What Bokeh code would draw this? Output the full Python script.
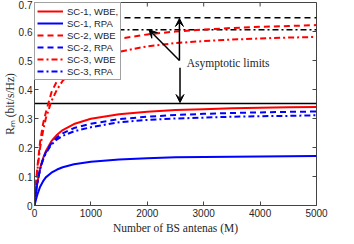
import math
from bokeh.plotting import figure
from bokeh.models import (Range1d, FixedTicker, Legend, LegendItem,
                          Arrow, VeeHead, Label)
from bokeh.embed import file_html
from bokeh.resources import INLINE

# ---------------- data ----------------
M = [0, 25, 50, 100, 150, 200, 300, 400, 500, 700, 1000, 1500, 2000, 2500,
     3000, 3500, 4000, 4500, 5000]
sc1_wbe = [0, 0.044, 0.078, 0.128, 0.162, 0.187, 0.222, 0.244, 0.260, 0.281,
           0.299, 0.315, 0.323, 0.329, 0.332, 0.335, 0.337, 0.339, 0.340]
sc1_rpa = [0, 0.020, 0.037, 0.065, 0.083, 0.097, 0.113, 0.124, 0.132, 0.142,
           0.151, 0.159, 0.163, 0.166, 0.167, 0.168, 0.169, 0.170, 0.171]
sc2_wbe = [0, 0.075, 0.130, 0.220, 0.280, 0.320, 0.390, 0.430, 0.460, 0.500,
           0.540, 0.575, 0.590, 0.600, 0.607, 0.612, 0.616, 0.619, 0.622]
sc2_rpa = [0, 0.044, 0.078, 0.127, 0.160, 0.183, 0.215, 0.235, 0.249, 0.267,
           0.282, 0.298, 0.306, 0.312, 0.316, 0.319, 0.321, 0.323, 0.324]
sc3_wbe = [0, 0.070, 0.120, 0.200, 0.255, 0.300, 0.360, 0.400, 0.430, 0.470,
           0.500, 0.530, 0.549, 0.560, 0.567, 0.572, 0.576, 0.579, 0.581]
sc3_rpa = [0, 0.044, 0.077, 0.125, 0.157, 0.180, 0.210, 0.228, 0.240, 0.256,
           0.270, 0.287, 0.295, 0.300, 0.303, 0.306, 0.308, 0.309, 0.311]
asym_x = [0, 5000]
asym_sc1 = 0.352
asym_sc2 = 0.647
asym_sc3 = 0.606

labels = ["SC-1, WBE,", "SC-1, RPA", "SC-2, WBE", "SC-2, RPA", "SC-3, WBE", "SC-3, RPA"]
x_ticks = [0, 1000, 2000, 3000, 4000, 5000]
y_ticks = [0, 0.1, 0.2, 0.3, 0.4, 0.5, 0.6, 0.7]
x_max = 5000
y_max = 0.7

# annotation: arrows (tail -> head) and text
arrow_tail = (2570, 0.50)
arrow_heads = [(2030, 0.606), (2570, 0.645)]
arrow_down = ((2580, 0.475), (2580, 0.355))
note_pos = (2700, 0.49)
note_text = "Asymptotic limits"

# ---------------- figure ----------------
p = figure(width=338, height=236, output_backend="svg", toolbar_location=None,
           x_range=Range1d(0, x_max), y_range=Range1d(0, y_max),
           min_border_left=26, min_border_right=22, min_border_top=2,
           min_border_bottom=4)
p.background_fill_color = "white"
p.border_fill_color = "white"
p.xgrid.visible = False
p.ygrid.visible = False
p.outline_line_color = "#444444"
p.outline_line_width = 1

AX = "#444444"
for ax in (p.xaxis[0], p.yaxis[0]):
    ax.axis_line_color = AX
    ax.major_tick_line_color = AX
    ax.minor_tick_line_color = None
    ax.major_tick_in = 4
    ax.major_tick_out = 0
    ax.major_label_text_font = "Liberation Sans"
    ax.major_label_text_font_size = "10px"
    ax.major_label_text_color = "#262626"
    ax.axis_label_text_font = "Liberation Serif"
    ax.axis_label_text_font_style = "normal"
    ax.axis_label_text_font_size = "11.5px"
    ax.axis_label_text_color = "#262626"
    ax.major_label_standoff = 3
    ax.axis_label_standoff = 2
p.yaxis.major_label_standoff = 2
p.yaxis.axis_label_standoff = 0

p.xaxis.ticker = FixedTicker(ticks=x_ticks)
p.yaxis.ticker = FixedTicker(ticks=y_ticks)
p.xaxis.axis_label = "Number of BS antenas (M)"
p.yaxis.axis_label = "Rₘ (bit/s/Hz)"

# inward ticks on top and right edges (MATLAB box style)
p.ray(x=x_ticks, y=[y_max] * len(x_ticks), length=4, length_units="screen",
      angle=-math.pi / 2, line_color=AX, line_width=1)
p.ray(x=[x_max] * len(y_ticks), y=y_ticks, length=4, length_units="screen",
      angle=math.pi, line_color=AX, line_width=1)

# asymptote lines
p.line(asym_x, [asym_sc1, asym_sc1], color="black", line_width=1.5)
p.line(asym_x, [asym_sc2, asym_sc2], color="black", line_width=1.5, line_dash="6 4")
p.line(asym_x, [asym_sc3, asym_sc3], color="black", line_width=1.5, line_dash="6 3 2 3")

RED = "#ff0000"
BLUE = "#0000ff"
r1 = p.line(M, sc1_wbe, color=RED, line_width=2)
r2 = p.line(M, sc1_rpa, color=BLUE, line_width=2)
r3 = p.line(M, sc2_wbe, color=RED, line_width=2, line_dash="6 4")
r4 = p.line(M, sc2_rpa, color=BLUE, line_width=2, line_dash="6 4")
r5 = p.line(M, sc3_wbe, color=RED, line_width=2, line_dash="6 3 2 3")
r6 = p.line(M, sc3_rpa, color=BLUE, line_width=2, line_dash="6 3 2 3")

# arrows
for hx, hy in arrow_heads:
    p.add_layout(Arrow(x_start=arrow_tail[0], y_start=arrow_tail[1], x_end=hx, y_end=hy,
                       line_color="black", line_width=1.5,
                       end=VeeHead(size=8, fill_color="black", line_color="black")))
p.add_layout(Arrow(x_start=arrow_down[0][0], y_start=arrow_down[0][1],
                   x_end=arrow_down[1][0], y_end=arrow_down[1][1],
                   line_color="black", line_width=1.5,
                   end=VeeHead(size=8, fill_color="black", line_color="black")))
p.add_layout(Label(x=note_pos[0], y=note_pos[1], text=note_text,
                   text_font="Liberation Serif", text_font_size="11.5px",
                   text_color="#262626", text_baseline="middle",
                   background_fill_color="white"))

legend = Legend(items=[LegendItem(label=l, renderers=[r])
                       for l, r in zip(labels, [r1, r2, r3, r4, r5, r6])],
                location="top_left")
legend.label_text_font = "Liberation Sans"
legend.label_text_font_size = "9.5px"
legend.label_text_color = "#262626"
legend.glyph_width = 26
legend.glyph_height = 12
legend.label_height = 12
legend.spacing = 0
legend.padding = 2
legend.margin = 0
legend.label_standoff = 4
legend.border_line_color = "#444444"
legend.border_line_width = 1
legend.background_fill_alpha = 1
p.add_layout(legend)

open("out.html", "w").write(file_html(p, INLINE))
